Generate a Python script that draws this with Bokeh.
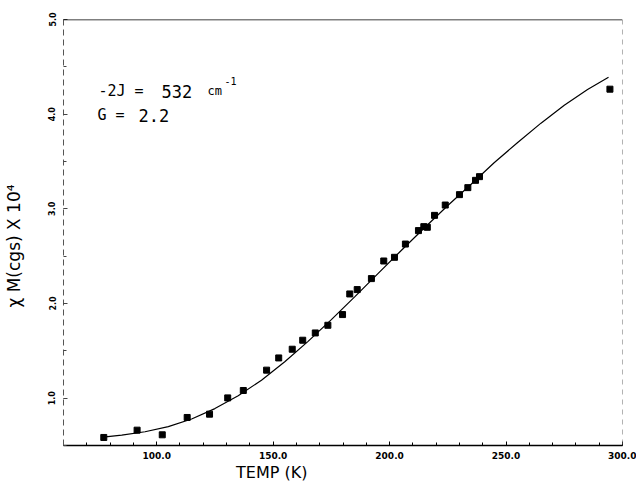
from bokeh.plotting import figure
from bokeh.models import FixedTicker, Span, Label, NumeralTickFormatter
from bokeh.embed import file_html
from bokeh.resources import INLINE

# ---- data ----
temp_k = [77.3, 91.6, 102.4, 113.1, 122.7, 130.5, 137.2, 147.2, 152.4, 158.2,
          162.7, 168.1, 173.5, 179.8, 182.9, 186.1, 192.2, 197.5, 202.1, 206.8,
          212.4, 214.7, 216.2, 219.3, 223.9, 230.0, 233.6, 236.9, 238.6, 294.6]
chi_obs = [0.585, 0.662, 0.613, 0.796, 0.831, 1.003, 1.081, 1.296, 1.425, 1.517,
           1.612, 1.689, 1.770, 1.883, 2.101, 2.147, 2.263, 2.449, 2.488, 2.628,
           2.770, 2.812, 2.805, 2.931, 3.040, 3.150, 3.224, 3.301, 3.340, 4.264]

fit_t = [77, 85, 95, 105, 115, 125, 135, 145, 155, 165, 175, 185, 195, 205,
         215, 225, 235, 245, 255, 265, 275, 285, 294]
fit_chi = [0.588, 0.61, 0.645, 0.70, 0.78, 0.89, 1.025, 1.19, 1.385, 1.60, 1.83,
           2.07, 2.315, 2.56, 2.80, 3.035, 3.26, 3.49, 3.70, 3.905, 4.095, 4.26, 4.39]

x_major = [100, 150, 200, 250, 300]
x_minor = list(range(60, 301, 10))
y_major = [1.0, 2.0, 3.0, 4.0, 5.0]
y_minor = [0.5, 1.0, 1.5, 2.0, 2.5, 3.0, 3.5, 4.0, 4.5, 5.0]

x_title = "TEMP (K)"
y_title = "\u03c7 M(cgs) X 10\u2074"

X0, X1, Y0, Y1 = 60, 300, 0.5, 5.0
NBSP = "\u00a0"

p = figure(width=636, height=484, x_range=(X0, X1), y_range=(Y0, Y1),
           output_backend="svg", toolbar_location=None,
           min_border_left=63, min_border_right=14, min_border_top=19, min_border_bottom=38,
           background_fill_color="white", border_fill_color="white")
p.outline_line_color = None
p.xgrid.visible = False
p.ygrid.visible = False

# x axis
p.xaxis.ticker = FixedTicker(ticks=x_major, minor_ticks=x_minor)
p.xaxis.formatter = NumeralTickFormatter(format="0.0")
p.xaxis.axis_line_color = "black"
p.xaxis.axis_line_width = 1.5
p.xaxis.major_tick_in = 4
p.xaxis.major_tick_out = 0
p.xaxis.minor_tick_in = 3
p.xaxis.minor_tick_out = 0
p.xaxis.major_tick_line_color = "black"
p.xaxis.minor_tick_line_color = "black"
p.xaxis.major_label_text_font = "DejaVu Sans"
p.xaxis.major_label_text_font_size = "9px"
p.xaxis.major_label_text_font_style = "bold"
p.xaxis.major_label_text_color = "black"
p.xaxis.major_label_standoff = 6
p.xaxis.axis_label = x_title + NBSP * 28
p.xaxis.axis_label_text_font = "DejaVu Sans"
p.xaxis.axis_label_text_font_size = "16px"
p.xaxis.axis_label_text_font_style = "normal"
p.xaxis.axis_label_text_color = "black"
p.xaxis.axis_label_standoff = 1

# y axis
p.yaxis.ticker = FixedTicker(ticks=y_major, minor_ticks=y_minor)
p.yaxis.formatter = NumeralTickFormatter(format="0.0")
p.yaxis.axis_line_color = "#555555"
p.yaxis.axis_line_dash = "6 4"
p.yaxis.axis_line_width = 1
p.yaxis.major_tick_in = 4
p.yaxis.major_tick_out = 0
p.yaxis.minor_tick_in = 3
p.yaxis.minor_tick_out = 0
p.yaxis.major_tick_line_color = "#444444"
p.yaxis.minor_tick_line_color = "#444444"
p.yaxis.major_label_orientation = "vertical"
p.yaxis.major_label_text_font = "DejaVu Sans"
p.yaxis.major_label_text_font_size = "8px"
p.yaxis.major_label_text_font_style = "bold"
p.yaxis.major_label_text_color = "black"
p.yaxis.major_label_standoff = 8
p.yaxis.axis_label = y_title + NBSP * 5
p.yaxis.axis_label_text_font = "DejaVu Sans"
p.yaxis.axis_label_text_font_size = "17px"
p.yaxis.axis_label_text_font_style = "normal"
p.yaxis.axis_label_text_color = "black"
p.yaxis.axis_label_standoff = 22

# top and right borders
p.add_layout(Span(location=Y1, dimension="width", line_color="black", line_width=1.5))
p.add_layout(Span(location=X1, dimension="height", line_color="#666666",
                  line_width=1, line_dash="5 5"))

# fit curve and data
p.line(fit_t, fit_chi, line_color="black", line_width=1.2)
p.scatter(temp_k, chi_obs, marker="square", size=6, color="black")

# helpers: place text by layout position (frame spans px 63..622, 19..446)
def ax(px):
    return X0 + (px - 63) * (X1 - X0) / 559.0

def ay(py):
    return Y1 - (py - 19) * (Y1 - Y0) / 427.0

MONO = "DejaVu Sans Mono"

def txt(t, px, py, size, font=MONO, align="left", baseline="alphabetic"):
    p.add_layout(Label(x=ax(px), y=ay(py), text=t, text_font=font,
                       text_font_size=f"{size}px", text_color="black",
                       text_align=align, text_baseline=baseline))

# annotation text inside the plot
txt("-2J =", 98, 91, 15)
txt("532", 161, 91, 17)
txt("cm", 207, 91, 12)
txt("-1", 224, 81, 10)
txt("G =", 97, 115, 15)
txt("2.2", 138, 115, 17)

open("out.html", "w").write(file_html(p, INLINE))
